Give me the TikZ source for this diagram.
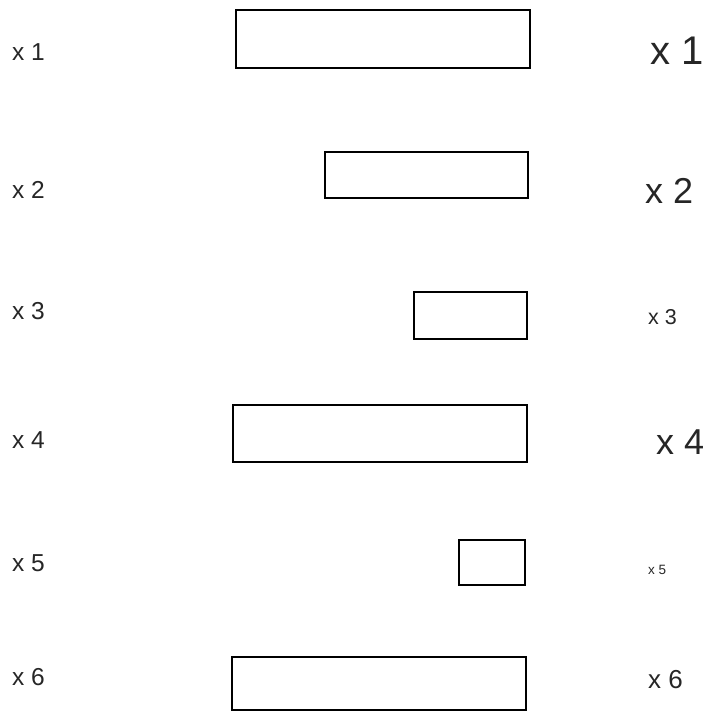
\documentclass[tikz,border=0pt]{standalone}
\usepackage{fontspec}
\setmainfont{Liberation Sans}
\begin{document}
\begin{tikzpicture}[x=1pt,y=-1pt,
  bar/.style={draw=black, line width=1.6pt, inner sep=0pt, anchor=center},
  lab/.style={anchor=west, inner sep=0pt, text=black!85}]
\useasboundingbox (0,0) rectangle (706,712);
\node[bar, minimum width=294pt, minimum height=58pt] (b1) at (383,39) {};
\node[bar, minimum width=203pt, minimum height=46pt] (b2) at (426.5,175) {};
\node[bar, minimum width=113pt, minimum height=47pt] (b3) at (470.5,315.5) {};
\node[bar, minimum width=294pt, minimum height=57pt] (b4) at (380,433.5) {};
\node[bar, minimum width=66pt, minimum height=45pt] (b5) at (492,562.5) {};
\node[bar, minimum width=294pt, minimum height=53pt] (b6) at (379,683.5) {};
% left labels
\node[lab, font=\fontsize{24.5}{28}\selectfont] (l1) at (12,52) {x 1};
\node[lab, font=\fontsize{24.5}{28}\selectfont] (l2) at (12,190) {x 2};
\node[lab, font=\fontsize{24.5}{28}\selectfont] (l3) at (12,311) {x 3};
\node[lab, font=\fontsize{24.5}{28}\selectfont] (l4) at (12,440) {x 4};
\node[lab, font=\fontsize{24.5}{28}\selectfont] (l5) at (12,563) {x 5};
\node[lab, font=\fontsize{24.5}{28}\selectfont] (l6) at (12,677) {x 6};
% right labels
\node[lab, font=\fontsize{40}{44}\selectfont] (r1) at (650,51) {x 1};
\node[lab, font=\fontsize{36}{40}\selectfont] (r2) at (645,191) {x 2};
\node[lab, font=\fontsize{21.5}{24}\selectfont] (r3) at (648,317) {x 3};
\node[lab, font=\fontsize{36}{40}\selectfont] (r4) at (656,442) {x 4};
\node[lab, font=\fontsize{13.5}{16}\selectfont] (r5) at (648,570) {x 5};
\node[lab, font=\fontsize{26}{30}\selectfont] (r6) at (648,680) {x 6};
\end{tikzpicture}
\end{document}
